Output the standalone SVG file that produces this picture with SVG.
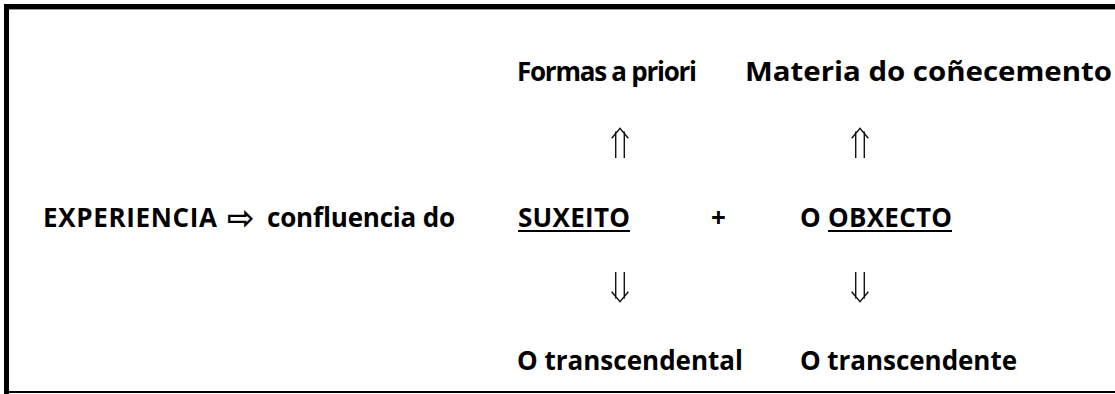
<svg xmlns="http://www.w3.org/2000/svg" width="1115" height="394" viewBox="0 0 1115 394">
<style>
.t{font-family:"Open Sans","Liberation Sans",sans-serif;font-weight:bold;font-size:26px;fill:#000}
.sym{font-family:"DejaVu Sans",sans-serif;font-weight:bold;font-size:33px}
.arr{fill:none;stroke:#111;stroke-width:1.4;stroke-linecap:butt}
.ul{fill:#000}
</style>
<rect x="0" y="0" width="1115" height="394" fill="#fff"/>
<g id="frame">
<rect x="4" y="4" width="1111" height="5" fill="#000"/>
<rect x="9" y="9" width="1106" height="1" fill="#999"/>
<rect x="4" y="4" width="5" height="390" fill="#000"/>
<rect x="9" y="391" width="1106" height="2" fill="#000"/>
</g>
<g id="experiencia">
<text class="t" y="227"><tspan x="43" textLength="174">EXPERIENCIA</tspan><tspan class="sym" x="227" y="229">⇨</tspan><tspan x="267" y="227" textLength="188">confluencia do</tspan></text>
</g>
<g id="suxeito">
<text class="t" x="518" y="227" textLength="112">SUXEITO</text>
<rect class="ul" x="518" y="230" width="112" height="2"/>
</g>
<g id="plus">
<text class="t" x="711" y="227">+</text>
</g>
<g id="obxecto">
<text class="t" y="227"><tspan x="800">O</tspan><tspan x="828" textLength="124">OBXECTO</tspan></text>
<rect class="ul" x="828" y="230" width="124" height="2"/>
</g>
<g id="formas">
<text class="t" x="517" y="81" textLength="180">Formas a priori</text>
</g>
<g id="materia">
<text class="t" x="745" y="81" textLength="367" lengthAdjust="spacingAndGlyphs">Materia do coñecemento</text>
</g>
<g id="transcendental">
<text class="t" x="517" y="370" textLength="226">O transcendental</text>
</g>
<g id="transcendente">
<text class="t" x="800" y="370" textLength="217">O transcendente</text>
</g>
<g id="connectors">
<path class="arr" d="M615.7,158V131.5M624.3,158V131.5M611.7,138.3L620,128.3L628.3,138.3"/>
<path class="arr" d="M855.7,158V131.5M864.3,158V131.5M851.7,138.3L860,128.3L868.3,138.3"/>
<path class="arr" d="M615.7,272V298.5M624.3,272V298.5M611.7,291.7L620,301.7L628.3,291.7"/>
<path class="arr" d="M855.7,272V298.5M864.3,272V298.5M851.7,291.7L860,301.7L868.3,291.7"/>
</g>
</svg>
